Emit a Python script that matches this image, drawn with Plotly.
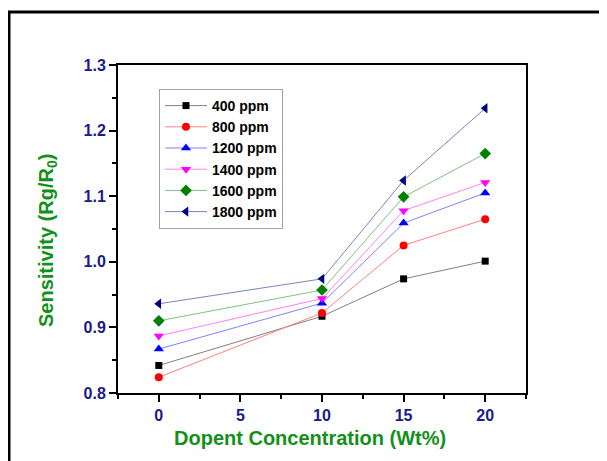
import plotly.graph_objects as go

x_vals = [0, 10, 15, 20]
series_names = ["400 ppm", "800 ppm", "1200 ppm", "1400 ppm", "1600 ppm", "1800 ppm"]
s400 = [0.842, 0.917, 0.974, 1.001]
s800 = [0.824, 0.922, 1.025, 1.065]
s1200 = [0.867, 0.937, 1.059, 1.105]
s1400 = [0.887, 0.944, 1.078, 1.121]
s1600 = [0.910, 0.957, 1.099, 1.165]
s1800 = [0.936, 0.974, 1.124, 1.234]
series_values = [s400, s800, s1200, s1400, s1600, s1800]

x_title = "Dopent Concentration (Wt%)"
y_title = "Sensitivity (Rg/R<sub>0</sub>)"

colors = ["#000000", "#ff0000", "#0000ff", "#ff00ff", "#008000", "#000080"]
line_colors = ["#808080", "#ff8080", "#8080ff", "#ff80ff", "#80c080", "#8080c0"]
symbols = ["square", "circle", "triangle-up", "triangle-down", "diamond", "triangle-left"]
sizes = [7, 8, 9, 9, 9, 9]

fig = go.Figure()
for name, vals, c, lc, sym, sz in zip(series_names, series_values, colors, line_colors, symbols, sizes):
    fig.add_trace(go.Scatter(
        x=x_vals, y=vals, name=name, mode="lines+markers",
        line=dict(color=lc, width=1),
        marker=dict(color=c, symbol=sym, size=sz, line=dict(width=0)),
    ))

# The page body has an 8px margin, so the figure is offset by 8px in the window.
OFF = 8
W, H = 607 - OFF, 461 - OFF
L, T = 118 - OFF, 65 - OFF
R = W - (526 - OFF)
B = H - (393 - OFF)
pw = W - L - R
ph = H - T - B

def px_to_paper_x(px):
    return (px - OFF - L) / pw

def px_to_paper_y(py):
    return (H - B - (py - OFF)) / ph

tick_font = dict(family="Arial, Liberation Sans", size=16, color="#1a1a8c", weight="bold")
title_font = dict(family="Arial, Liberation Sans", size=20, color="#13901a", weight="bold")

fig.update_layout(
    width=W, height=H,
    margin=dict(l=L, r=R, t=T, b=B, autoexpand=False),
    paper_bgcolor="white", plot_bgcolor="white",
    showlegend=True,
    legend=dict(
        x=px_to_paper_x(159), y=px_to_paper_y(89), xanchor="left", yanchor="top",
        bgcolor="white", bordercolor="#a0a0a0", borderwidth=1,
        font=dict(family="Arial, Liberation Sans", size=14, color="black", weight="bold"),
        tracegroupgap=0, itemwidth=42,
    ),
    xaxis=dict(
        range=[-2.5, 22.5], tick0=0, dtick=5,
        ticks="outside", ticklen=7, tickwidth=2, tickcolor="black",
        showline=True, linewidth=2, linecolor="black", mirror=True,
        showgrid=False, zeroline=False,
        tickfont=tick_font,
        minor=dict(dtick=2.5, tick0=0, ticks="outside", ticklen=4, tickwidth=2, tickcolor="black", showgrid=False),
    ),
    yaxis=dict(
        range=[0.8, 1.3], tick0=0.8, dtick=0.1, tickformat=".1f",
        ticks="outside", ticklen=7, tickwidth=2, tickcolor="black",
        showline=True, linewidth=2, linecolor="black", mirror=True,
        showgrid=False, zeroline=False,
        tickfont=tick_font,
        minor=dict(dtick=0.05, tick0=0.8, ticks="outside", ticklen=4, tickwidth=2, tickcolor="black", showgrid=False),
    ),
    annotations=[
        dict(text=x_title, xref="paper", yref="paper",
             x=px_to_paper_x(310), y=px_to_paper_y(438),
             xanchor="center", yanchor="middle", showarrow=False, font=title_font),
        dict(text=y_title, xref="paper", yref="paper", textangle=-90,
             x=px_to_paper_x(47), y=px_to_paper_y(241),
             xanchor="center", yanchor="middle", showarrow=False, font=title_font),
    ],
    shapes=[dict(
        type="rect", xref="paper", yref="paper",
        x0=px_to_paper_x(9), x1=px_to_paper_x(660),
        y0=px_to_paper_y(520), y1=px_to_paper_y(12),
        line=dict(color="black", width=3), fillcolor="rgba(0,0,0,0)", layer="below",
    )],
)

fig.write_html("out.html")
